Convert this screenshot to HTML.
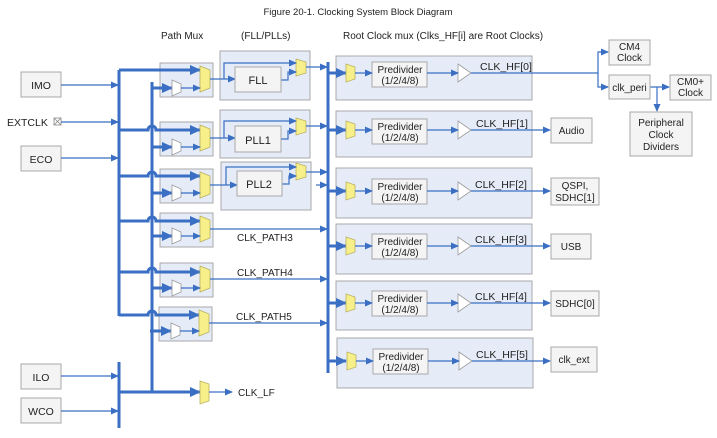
<!DOCTYPE html>
<html><head><meta charset="utf-8"><style>
html,body{margin:0;padding:0;background:#fff;width:717px;height:438px;overflow:hidden}
text{font-family:"Liberation Sans",Arial,sans-serif;fill:#222}
</style></head><body>
<svg width="717" height="438" viewBox="0 0 717 438" xmlns="http://www.w3.org/2000/svg">
<defs>
<marker id="a" markerWidth="8" markerHeight="8" refX="7" refY="4" orient="auto" markerUnits="userSpaceOnUse"><path d="M0,0.5 L8,4 L0,7.5z" fill="#3a6fc4"/></marker>
<marker id="b" markerWidth="11" markerHeight="10" refX="10" refY="5" orient="auto" markerUnits="userSpaceOnUse"><path d="M0,0 L11,5 L0,10z" fill="#3a6fc4"/></marker>
</defs>
<text x="358" y="15" font-size="9.5" text-anchor="middle">Figure 20-1.  Clocking System Block Diagram</text>
<text x="161" y="39" font-size="10">Path Mux</text>
<text x="241" y="39" font-size="10">(FLL/PLLs)</text>
<text x="343" y="39" font-size="10">Root Clock mux (Clks_HF[i] are Root  Clocks)</text>

<g fill="#f4f4f4" stroke="#a8a8a8">
<rect x="21" y="72" width="40" height="25"/><rect x="21" y="146" width="40" height="25"/>
<rect x="21" y="364" width="40" height="25"/><rect x="21" y="398" width="40" height="25"/>
</g>
<g font-size="10.5" text-anchor="middle">
<text x="41" y="89">IMO</text><text x="41" y="163">ECO</text><text x="41" y="381">ILO</text><text x="41" y="415">WCO</text>
</g>
<text x="7" y="126" font-size="10.5">EXTCLK</text>
<rect x="54" y="118" width="7" height="7" fill="#fff" stroke="#888" stroke-width="0.8"/>
<path d="M54,118 L61,125 M61,118 L54,125" stroke="#888" stroke-width="0.8"/>
<g stroke="#3a6fc4" stroke-width="1.2" marker-end="url(#a)">
<line x1="61" y1="85" x2="118" y2="85"/><line x1="61" y1="122" x2="118" y2="122"/><line x1="61" y1="158" x2="118" y2="158"/>
<line x1="61" y1="376" x2="118" y2="376"/><line x1="61" y1="411" x2="118" y2="411"/>
</g>

<!-- buses -->
<g stroke="#3a6fc4" stroke-width="3" fill="none">
<line x1="119" y1="70" x2="119" y2="316"/>
<line x1="152" y1="82" x2="152" y2="393"/>
<line x1="119" y1="362" x2="119" y2="428"/>
<line x1="119" y1="392" x2="152" y2="392"/>
<line x1="328" y1="62" x2="328" y2="373"/>
</g>

<!-- path mux boxes -->
<g fill="#e6ecf7" stroke="#a8a8a8">
<rect x="160" y="63" width="53" height="34"/><rect x="160" y="122" width="53" height="34"/>
<rect x="160" y="169" width="53" height="34"/><rect x="160" y="213" width="53" height="34"/>
<rect x="160" y="263" width="53" height="34"/><rect x="159" y="307" width="53" height="34"/>
<rect x="220" y="51" width="90" height="49"/><rect x="220" y="110" width="90" height="48"/>
<rect x="221" y="162" width="90" height="48"/>
</g>
<!-- thick branches -->
<g stroke="#3a6fc4" stroke-width="3" fill="none" marker-end="url(#b)">
<path d="M119,70 H200"/>
<path d="M119,130 H148 a4,4 0 0 1 8,0 H200"/>
<path d="M119,176 H148 a4,4 0 0 1 8,0 H200"/>
<path d="M119,221 H148 a4,4 0 0 1 8,0 H200"/>
<path d="M119,272 H148 a4,4 0 0 1 8,0 H200"/>
<path d="M119,315 H148 a4,4 0 0 1 8,0 H199"/>
<path d="M152,88 H172"/><path d="M152,147 H172"/><path d="M152,193 H172"/>
<path d="M152,236 H172"/><path d="M152,288 H172"/><path d="M150,331 H171"/>
<path d="M152,392 H200"/>
</g>
<!-- muxes -->
<g fill="#f7f08a" stroke="#b8b060" stroke-width="0.8">
<path d="M200,66 L210,70 L210,88 L200,92z"/><path d="M200,125 L210,129 L210,147 L200,151z"/>
<path d="M200,172 L210,176 L210,194 L200,198z"/><path d="M200,216 L210,220 L210,238 L200,242z"/>
<path d="M200,266 L210,270 L210,288 L200,292z"/><path d="M199,310 L209,314 L209,332 L199,336z"/>
<path d="M200,381 L209,384 L209,401 L200,404z"/>
<path d="M296,59 L306,62 L306,73 L296,76z"/><path d="M296,118 L306,121 L306,132 L296,135z"/>
<path d="M296,163 L306,166 L306,177 L296,180z"/>
</g>
<g fill="#fff" stroke="#999" stroke-width="0.8">
<path d="M172,80 L181,84 L181,92 L172,96z"/><path d="M172,139 L181,143 L181,151 L172,155z"/>
<path d="M172,185 L181,189 L181,197 L172,201z"/><path d="M172,228 L181,232 L181,240 L172,244z"/>
<path d="M172,280 L181,284 L181,292 L172,296z"/><path d="M171,323 L180,327 L180,335 L171,339z"/>
</g>
<g stroke="#3a6fc4" stroke-width="1.2" fill="none" marker-end="url(#a)">
<line x1="181" y1="88" x2="200" y2="88"/><line x1="181" y1="147" x2="200" y2="147"/>
<line x1="181" y1="193" x2="200" y2="193"/><line x1="181" y1="236" x2="200" y2="236"/>
<line x1="181" y1="288" x2="200" y2="288"/><line x1="180" y1="331" x2="199" y2="331"/>
<line x1="209" y1="392" x2="232" y2="392"/>
<path d="M210,79 H235"/><path d="M224,79 V63 H296"/><path d="M281,80 H288 V72 H296"/>
<path d="M210,138 H235"/><path d="M224,138 V121 H296"/><path d="M281,139 H288 V131 H296"/>
<path d="M210,185 H237"/><path d="M226,185 V167 H296"/><path d="M282,184 H289 V176 H296"/>
<path d="M306,67 H327"/><path d="M306,126 H327"/><path d="M306,172 H327"/><path d="M316,185 H327"/>
<path d="M210,229 H327"/><path d="M210,279 H327"/><path d="M209,323 H327"/>
</g>
<g fill="#f4f4f4" stroke="#a8a8a8">
<rect x="235" y="67" width="46" height="25"/><rect x="235" y="126" width="46" height="26"/>
<rect x="237" y="171" width="45" height="25"/>
</g>
<g font-size="11" text-anchor="middle">
<text x="258" y="84">FLL</text><text x="258" y="144">PLL1</text><text x="259" y="188">PLL2</text>
</g>
<g font-size="10">
<text x="237" y="241">CLK_PATH3</text><text x="237" y="276">CLK_PATH4</text><text x="236" y="320">CLK_PATH5</text>
<text x="238" y="396">CLK_LF</text>
</g>

<!-- root rows -->
<g fill="#e6ecf7" stroke="#a8a8a8">
<rect x="336" y="56" width="196" height="44"/><rect x="336" y="111" width="196" height="46"/>
<rect x="336" y="168" width="196" height="50"/><rect x="336" y="224" width="196" height="50"/>
<rect x="336" y="281" width="196" height="49"/><rect x="337" y="338" width="196" height="50"/>
</g>
<g id="rows">
<g stroke="#3a6fc4" stroke-width="3" marker-end="url(#b)">
<line x1="328" y1="73" x2="346" y2="73"/><line x1="328" y1="130" x2="346" y2="130"/>
<line x1="328" y1="191" x2="346" y2="191"/><line x1="328" y1="246" x2="346" y2="246"/>
<line x1="328" y1="303" x2="346" y2="303"/><line x1="328" y1="361" x2="346" y2="361"/>
</g>
</g>
<g fill="#f7f08a" stroke="#b8b060" stroke-width="0.8">
<path d="M346,64 L355,67 L355,79 L346,82z"/><path d="M346,121 L355,124 L355,136 L346,139z"/>
<path d="M346,182 L355,185 L355,197 L346,200z"/><path d="M346,237 L355,240 L355,252 L346,255z"/>
<path d="M346,294 L355,297 L355,309 L346,312z"/><path d="M347,352 L356,355 L356,367 L347,370z"/>
</g>
<g fill="#f4f4f4" stroke="#a8a8a8">
<rect x="372" y="62" width="55" height="25"/><rect x="372" y="119" width="55" height="25"/>
<rect x="372" y="179" width="55" height="25"/><rect x="372" y="234" width="55" height="25"/>
<rect x="372" y="291" width="55" height="25"/><rect x="373" y="349" width="55" height="25"/>
</g>
<g fill="#fff" stroke="#999" stroke-width="0.8">
<path d="M458,64 L471,73 L458,82z"/><path d="M458,121 L471,130 L458,139z"/>
<path d="M458,182 L471,191 L458,200z"/><path d="M458,237 L471,246 L458,255z"/>
<path d="M458,294 L471,303 L458,312z"/><path d="M459,352 L472,361 L459,370z"/>
</g>
<g stroke="#3a6fc4" stroke-width="1.2" fill="none" marker-end="url(#a)">
<line x1="355" y1="73" x2="372" y2="73"/><line x1="355" y1="130" x2="372" y2="130"/>
<line x1="355" y1="191" x2="372" y2="191"/><line x1="355" y1="246" x2="372" y2="246"/>
<line x1="355" y1="303" x2="372" y2="303"/><line x1="356" y1="361" x2="373" y2="361"/>
<line x1="427" y1="73" x2="458" y2="73"/><line x1="427" y1="130" x2="458" y2="130"/>
<line x1="427" y1="191" x2="458" y2="191"/><line x1="427" y1="246" x2="458" y2="246"/>
<line x1="427" y1="303" x2="458" y2="303"/><line x1="428" y1="361" x2="459" y2="361"/>
<line x1="471" y1="130" x2="550" y2="130"/><line x1="471" y1="191" x2="550" y2="191"/>
<line x1="471" y1="246" x2="550" y2="246"/><line x1="471" y1="303" x2="550" y2="303"/>
<line x1="472" y1="361" x2="550" y2="361"/>
<path d="M471,73 H598 V52 H608"/><path d="M598,73 V87 H608"/>
<path d="M650,87 H669"/><path d="M657,87 V111"/>
</g>
<g font-size="10" text-anchor="middle">
<text x="400" y="73">Predivider</text><text x="400" y="84">(1/2/4/8)</text>
<text x="400" y="130">Predivider</text><text x="400" y="141">(1/2/4/8)</text>
<text x="400" y="190">Predivider</text><text x="400" y="201">(1/2/4/8)</text>
<text x="400" y="245">Predivider</text><text x="400" y="256">(1/2/4/8)</text>
<text x="400" y="302">Predivider</text><text x="400" y="313">(1/2/4/8)</text>
<text x="401" y="360">Predivider</text><text x="401" y="371">(1/2/4/8)</text>
</g>
<g font-size="10.5">
<text x="480" y="70">CLK_HF[0]</text><text x="476" y="127">CLK_HF[1]</text>
<text x="475" y="188">CLK_HF[2]</text><text x="475" y="243">CLK_HF[3]</text>
<text x="475" y="300">CLK_HF[4]</text><text x="476" y="358">CLK_HF[5]</text>
</g>
<g fill="#f4f4f4" stroke="#a8a8a8">
<rect x="609" y="40" width="41" height="25"/><rect x="609" y="75" width="41" height="24"/>
<rect x="670" y="75" width="41" height="25"/><rect x="630" y="112" width="62" height="44"/>
<rect x="551" y="118" width="41" height="25"/><rect x="551" y="178" width="48" height="27"/>
<rect x="551" y="234" width="40" height="25"/><rect x="551" y="291" width="48" height="25"/>
<rect x="551" y="347" width="46" height="25"/>
</g>
<g font-size="10" text-anchor="middle">
<text x="629.5" y="50">CM4</text><text x="629.5" y="61">Clock</text>
<text x="629.5" y="91">clk_peri</text>
<text x="690.5" y="85">CM0+</text><text x="690.5" y="96">Clock</text>
<text x="661" y="126">Peripheral</text><text x="661" y="138">Clock</text><text x="661" y="150">Dividers</text>
<text x="571.5" y="134">Audio</text>
<text x="575" y="189">QSPI,</text><text x="575" y="201">SDHC[1]</text>
<text x="571" y="250">USB</text><text x="575" y="307">SDHC[0]</text><text x="574" y="363">clk_ext</text>
</g>
</svg>
</body></html>
